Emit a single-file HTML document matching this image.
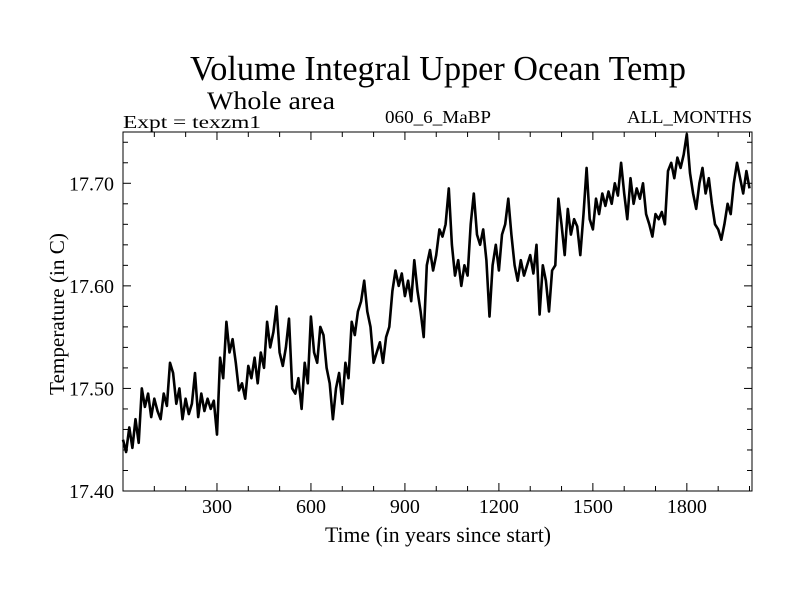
<!DOCTYPE html>
<html><head><meta charset="utf-8"><style>
html,body{margin:0;padding:0;background:#fff;}
svg{display:block;font-family:"Liberation Serif",serif;}
</style></head><body>
<svg id="chart" width="800" height="600" viewBox="0 0 800 600">
<rect x="0" y="0" width="800" height="600" fill="#fff"/>
<text x="190" y="80" font-size="34.5" textLength="496" lengthAdjust="spacingAndGlyphs">Volume Integral Upper Ocean Temp</text>
<text x="207" y="109" font-size="25" textLength="128" lengthAdjust="spacingAndGlyphs">Whole area</text>
<text x="123" y="128" font-size="18" textLength="138" lengthAdjust="spacingAndGlyphs">Expt = texzm1</text>
<text x="385" y="123" font-size="18" textLength="106" lengthAdjust="spacingAndGlyphs">060_6_MaBP</text>
<text x="627" y="123" font-size="18" textLength="125" lengthAdjust="spacingAndGlyphs">ALL_MONTHS</text>
<text x="325" y="542" font-size="22" textLength="226" lengthAdjust="spacingAndGlyphs">Time (in years since start)</text>
<text x="0" y="0" font-size="21" textLength="162" lengthAdjust="spacingAndGlyphs" text-anchor="middle" transform="translate(64,314) rotate(-90)">Temperature (in C)</text>
<g id="axes"></g>
<g id="series"></g>
</svg>
<script>
const yearStart = 0, yearStep = 10;
const temps = [
17.450,17.438,17.462,17.442,17.470,17.447,
17.500,17.482,17.495,17.472,17.490,
17.478,17.470,17.495,17.483,17.525,
17.515,17.485,17.500,17.470,17.490,
17.475,17.485,17.515,17.472,17.495,
17.478,17.490,17.480,17.488,17.455,
17.530,17.510,17.565,17.535,17.548,
17.525,17.498,17.505,17.490,17.522,
17.510,17.530,17.505,17.535,17.520,
17.565,17.540,17.555,17.580,17.535,
17.522,17.540,17.568,17.500,17.495,
17.510,17.480,17.525,17.505,17.570,
17.535,17.525,17.560,17.552,17.520,
17.505,17.470,17.500,17.515,17.485,
17.525,17.510,17.565,17.552,17.575,
17.585,17.605,17.575,17.560,17.525,
17.535,17.545,17.525,17.550,17.560,
17.595,17.615,17.600,17.612,17.590,
17.605,17.585,17.625,17.595,17.575,
17.550,17.620,17.635,17.615,17.630,
17.655,17.648,17.660,17.695,17.640,
17.610,17.625,17.600,17.620,17.610,
17.660,17.690,17.650,17.640,17.655,
17.625,17.570,17.620,17.640,17.615,
17.650,17.660,17.685,17.650,17.620,
17.605,17.625,17.610,17.620,17.630,
17.612,17.640,17.572,17.620,17.605,
17.575,17.615,17.620,17.685,17.660,
17.630,17.675,17.650,17.665,17.658,
17.630,17.670,17.715,17.665,17.655,
17.685,17.670,17.690,17.678,17.692,
17.680,17.700,17.688,17.720,17.690,
17.665,17.705,17.680,17.695,17.685,
17.700,17.670,17.660,17.648,17.670,
17.665,17.672,17.660,17.712,17.720,
17.705,17.725,17.715,17.728,17.748,
17.710,17.690,17.675,17.700,17.715,
17.690,17.705,17.680,17.660,17.655,
17.645,17.660,17.680,17.670,17.700,
17.720,17.705,17.690,17.712,17.695
];
const xTicks = [300,600,900,1200,1500,1800];
const yTicks = [17.40,17.50,17.60,17.70];
const yTickLabels = ["17.40","17.50","17.60","17.70"];

const L=123,R=752,T=132,B=491;
const X0=0,X1=2008,Y0=17.40,Y1=17.75;
const NS="http://www.w3.org/2000/svg";
function sx(v){return L+(v-X0)/(X1-X0)*(R-L);}
function sy(v){return B-(v-Y0)/(Y1-Y0)*(B-T);}
function mk(tag,attrs,parent){const e=document.createElementNS(NS,tag);for(const k in attrs)e.setAttribute(k,attrs[k]);parent.appendChild(e);return e;}
const axes=document.getElementById('axes');
const frame=mk('rect',{x:L,y:T,width:R-L,height:B-T,fill:'none',stroke:'#000','stroke-width':1},axes);


for(let v=100;v<X1;v+=100){
  const major=v%300===0, len=major?8:5, x=sx(v);
  const t1=mk('line',{x1:x,y1:B,x2:x,y2:B-len,stroke:'#000','stroke-width':1},axes);
  
  
  const t2=mk('line',{x1:x,y1:T,x2:x,y2:T+len,stroke:'#000','stroke-width':1},axes);
  
  
}
xTicks.forEach(v=>{
  const t=mk('text',{x:sx(v),y:B+22,'font-size':20,'text-anchor':'middle'},axes);
  t.textContent=v;
  
  
});
for(let i=1;i<18;i++){
  const v=Y0+i*0.02; if(v>Y1+1e-9)break;
  const major=(i%5===0), len=major?8:5, y=sy(v);
  const t1=mk('line',{x1:L,y1:y,x2:L+len,y2:y,stroke:'#000','stroke-width':1},axes);
  
  
  const t2=mk('line',{x1:R,y1:y,x2:R-len,y2:y,stroke:'#000','stroke-width':1},axes);
  
  
}
yTicks.forEach((v,i)=>{
  const t=mk('text',{x:L-9,y:sy(v)+7,'font-size':20,'text-anchor':'end'},axes);
  t.textContent=yTickLabels[i];
  
  
});
const pts=temps.map((v,i)=>sx(yearStart+i*yearStep).toFixed(1)+','+sy(v).toFixed(1)).join(' ');
const line=mk('polyline',{points:pts,fill:'none',stroke:'#000','stroke-width':2.6,'stroke-linejoin':'round'},document.getElementById('series'));


</script>
</body></html>
